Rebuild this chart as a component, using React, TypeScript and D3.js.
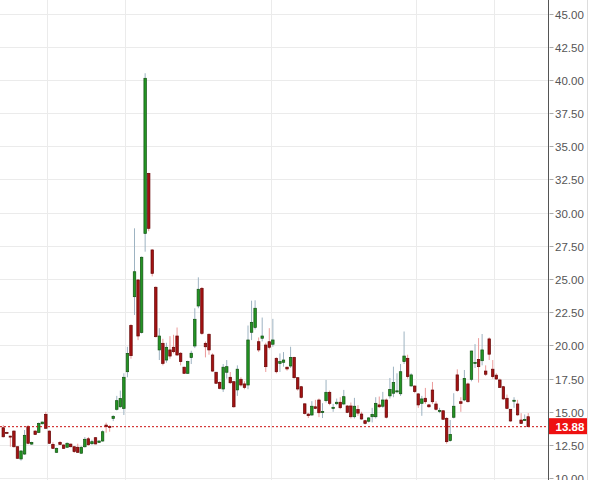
import React, { useEffect, useRef } from "react";
import * as d3 from "d3";

// daily candles, oldest first
const opens = [
  13.8, 13.45, 13.17, 13.55, 12.37, 11.45, 11.82, 13.88, 12.57, 13.55,
  13.45, 14.1, 14.81, 13.55, 12.55, 11.95, 12.7, 12.5, 12.33, 12.57,
  12.37, 12.33, 11.88, 12.37, 12.97, 12.6, 13.05, 12.7, 12.8, 14.0,
  13.9, 14.5, 15.19, 15.38, 15.26, 18.02, 21.51, 23.67, 24.93, 20.97,
  28.44, 32.96, 27.19, 24.38, 19.66, 20.16, 18.9, 19.66, 19.86, 20.71,
  19.41, 18.36, 17.9, 19.08, 19.96, 22.97, 24.3, 20.16, 20.84, 19.28,
  17.98, 17.22, 16.72, 17.98, 17.6, 17.27, 16.65, 17.45, 17.1, 17.02,
  20.99, 21.36, 20.28, 20.54, 20.03, 20.28, 20.09, 19.03, 18.65, 18.73,
  18.36, 18.45, 19.1, 17.57, 16.89, 15.6, 14.83, 14.76, 15.38, 15.89,
  15.0, 15.84, 16.47, 15.26, 15.61, 15.72, 15.59, 15.44, 15.44, 14.63,
  15.18, 14.83, 14.33, 14.29, 14.63, 14.63, 15.52, 15.42, 15.89, 16.2,
  16.4, 16.52, 16.36, 18.78, 19.03, 16.95, 16.94, 16.35, 15.64, 16.02,
  15.52, 16.64, 15.59, 15.08, 15.08, 14.51, 12.83, 14.59, 17.78, 15.76,
  15.89, 17.1, 17.45, 18.65, 18.95, 18.85, 18.07, 20.49, 18.21, 17.76,
  17.4, 16.89, 16.02, 15.19, 15.8, 15.59, 14.38, 14.38, 14.63,
];
const closes = [
  13.12, 13.42, 13.1, 12.37, 11.5, 12.05, 13.23, 12.63, 12.7, 13.3,
  14.13, 14.23, 13.76, 12.63, 12.25, 12.25, 12.55, 12.25, 12.63, 12.37,
  12.0, 11.95, 12.33, 12.93, 12.52, 12.75, 12.58, 12.8, 13.5, 13.88,
  13.83, 14.66, 15.84, 16.0, 17.6, 19.4, 19.23, 25.55, 20.71, 26.64,
  40.12, 28.82, 25.43, 20.66, 20.71, 18.65, 19.86, 19.2, 19.53, 19.28,
  18.78, 17.9, 18.78, 19.41, 21.97, 24.23, 20.91, 19.9, 19.66, 18.07,
  17.15, 16.77, 18.36, 18.4, 17.19, 15.38, 18.21, 17.02, 16.84, 20.41,
  21.74, 22.8, 19.66, 20.71, 18.4, 19.86, 20.41, 18.02, 18.78, 18.9,
  18.23, 19.1, 17.57, 16.72, 16.09, 14.88, 14.71, 15.42, 15.26, 14.93,
  15.02, 16.47, 15.64, 15.34, 15.72, 15.31, 16.14, 14.96, 14.63, 15.42,
  14.9, 14.46, 14.13, 14.54, 14.81, 15.64, 15.38, 15.89, 14.59, 16.69,
  17.2, 16.58, 18.02, 19.2, 17.65, 17.78, 16.52, 15.52, 15.97, 15.76,
  15.38, 15.76, 15.19, 15.1, 14.44, 12.75, 13.3, 15.42, 16.6, 15.64,
  17.52, 15.76, 19.58, 18.72, 18.4, 19.66, 17.83, 19.34, 17.65, 17.47,
  16.84, 15.97, 15.26, 14.31, 15.87, 14.77, 14.13, 14.42, 13.88,
];
const highs = [
  14.0, 13.5, 13.2, 13.6, 12.4, 12.1, 13.63, 14.0, 12.75, 13.6,
  14.2, 14.25, 15.0, 13.6, 12.7, 12.3, 12.8, 12.55, 12.7, 12.6,
  12.4, 12.6, 12.4, 13.1, 13.1, 12.9, 13.1, 12.85, 13.6, 14.18,
  14.0, 14.75, 16.2, 16.6, 17.9, 19.9, 21.6, 28.82, 25.0, 26.7,
  40.5, 33.0, 27.25, 24.45, 21.3, 20.5, 20.2, 20.7, 20.8, 21.35,
  19.5, 18.4, 18.85, 19.6, 22.8, 25.13, 24.4, 20.3, 20.9, 19.4,
  18.0, 17.3, 18.6, 18.9, 18.0, 17.3, 18.5, 17.6, 17.3, 21.5,
  23.37, 23.4, 20.6, 22.1, 20.2, 21.3, 22.0, 19.1, 19.4, 19.5,
  18.4, 19.9, 19.15, 17.6, 16.95, 15.65, 14.9, 15.8, 15.9, 16.0,
  15.65, 17.4, 16.6, 15.6, 16.0, 16.1, 16.65, 15.5, 15.7, 16.05,
  15.5, 15.0, 14.4, 14.6, 15.3, 16.1, 16.15, 16.5, 16.0, 17.55,
  18.4, 17.9, 18.6, 21.05, 19.3, 17.9, 17.0, 16.4, 16.2, 16.8,
  15.6, 17.25, 15.8, 15.3, 15.1, 14.6, 14.38, 16.4, 18.2, 16.1,
  18.15, 17.2, 19.6, 20.1, 20.55, 20.86, 18.5, 20.6, 18.9, 17.9,
  17.5, 16.95, 16.3, 15.2, 16.1, 15.9, 14.9, 14.8, 14.9,
];
const lows = [
  13.07, 13.4, 12.37, 12.3, 11.45, 11.32, 11.75, 12.55, 12.5, 13.25,
  13.4, 14.05, 13.7, 12.58, 12.2, 11.9, 12.5, 12.2, 12.3, 12.33,
  11.9, 11.9, 11.85, 12.3, 12.45, 12.5, 12.55, 12.65, 12.75, 13.43,
  13.5, 14.3, 15.1, 15.3, 14.76, 17.6, 19.0, 22.29, 20.4, 20.9,
  27.06, 28.6, 25.2, 20.6, 18.9, 18.5, 18.7, 19.0, 19.4, 19.2,
  18.5, 17.85, 17.85, 18.6, 19.8, 22.8, 20.8, 19.1, 19.3, 18.0,
  17.1, 16.7, 16.5, 17.5, 17.1, 15.3, 16.2, 16.9, 16.7, 16.7,
  20.4, 21.2, 19.5, 20.3, 18.0, 19.7, 19.9, 17.9, 18.0, 18.4,
  18.1, 18.3, 17.5, 16.6, 16.0, 14.8, 14.53, 14.7, 15.2, 14.6,
  14.53, 15.7, 15.5, 15.0, 15.5, 15.2, 15.5, 14.9, 14.5, 14.5,
  14.7, 14.4, 14.05, 14.2, 14.2, 14.5, 15.3, 15.3, 14.5, 16.0,
  16.1, 16.4, 16.2, 18.6, 17.5, 16.9, 16.4, 15.3, 14.7, 15.6,
  15.3, 15.6, 15.1, 14.9, 14.4, 12.6, 12.75, 14.5, 16.5, 15.0,
  15.8, 15.7, 17.3, 18.3, 17.2, 18.5, 17.7, 18.9, 17.5, 17.4,
  16.8, 15.9, 15.2, 14.25, 15.3, 14.7, 14.1, 14.35, 13.85,
];

// candle indices where a new month starts
const monthStarts = [12, 34, 75, 116, 138];
const priceTicks = d3.range(10, 45.01, 2.5);
const lastPrice = 13.88;

const W = 590,
  H = 480,
  axisX = 548;

export default function App() {
  const ref = useRef<SVGSVGElement>(null);

  useEffect(() => {
    const svg = d3.select(ref.current);
    svg.selectAll("*").remove();

    const idx = d3.range(opens.length);
    const x = d3.scaleBand<number>().domain(idx).range([1.5, 530]);
    const step = x.step();
    const cx = (i: number) => (x(i) as number) + step / 2;
    const y = d3.scaleLinear().domain([10, 45]).range([478.2, 13.5]);

    svg.append("rect").attr("width", W).attr("height", H).attr("fill", "#fff");

    // grid
    svg
      .append("g")
      .selectAll("line")
      .data(priceTicks)
      .join("line")
      .attr("x1", 0)
      .attr("x2", axisX)
      .attr("y1", (d) => Math.round(y(d)) + 0.5)
      .attr("y2", (d) => Math.round(y(d)) + 0.5)
      .attr("stroke", "#ebebeb");
    svg
      .append("g")
      .selectAll("line")
      .data(monthStarts)
      .join("line")
      .attr("x1", (d) => Math.round(cx(d) + step * 0.35) + 0.5)
      .attr("x2", (d) => Math.round(cx(d) + step * 0.35) + 0.5)
      .attr("y1", 0)
      .attr("y2", H)
      .attr("stroke", "#ebebeb");

    // candles
    const g = svg.append("g");
    idx.forEach((i) => {
      const up = closes[i] >= opens[i];
      const px = cx(i);
      g.append("line")
        .attr("x1", px)
        .attr("x2", px)
        .attr("y1", y(highs[i]))
        .attr("y2", y(lows[i]))
        .attr("stroke", up ? "#9db3c2" : "#ec9a9a")
        .attr("stroke-width", 1);
      const top = y(Math.max(opens[i], closes[i]));
      const bot = y(Math.min(opens[i], closes[i]));
      g.append("rect")
        .attr("x", px - step * 0.35)
        .attr("width", step * 0.7)
        .attr("y", top)
        .attr("height", Math.max(1, bot - top))
        .attr("fill", up ? "#239423" : "#a31212")
        .attr("stroke", up ? "#125212" : "#650606")
        .attr("stroke-width", 0.7);
    });

    // last price line
    svg
      .append("line")
      .attr("x1", 0)
      .attr("x2", axisX)
      .attr("y1", y(lastPrice))
      .attr("y2", y(lastPrice))
      .attr("stroke", "#cc1111")
      .attr("stroke-dasharray", "2,2");

    // right axis
    const ax = svg.append("g").attr("transform", `translate(${axisX + 0.5},0)`);
    ax.append("line").attr("y1", 0).attr("y2", H).attr("stroke", "#555");
    const t = ax
      .selectAll("g.tick")
      .data(priceTicks)
      .join("g")
      .attr("class", "tick")
      .attr("transform", (d) => `translate(0,${Math.round(y(d)) + 0.5})`);
    t.append("line").attr("x1", 1).attr("x2", 5).attr("stroke", "#aaa");
    t.append("text")
      .attr("x", 6.5)
      .attr("dy", "0.35em")
      .attr("fill", "#555")
      .style("font", "11.5px 'Liberation Sans', Arial, sans-serif")
      .text((d) => d3.format(".2f")(d));

    const ly = y(lastPrice);
    svg
      .append("rect")
      .attr("x", axisX + 1)
      .attr("y", ly - 8.5)
      .attr("width", 39)
      .attr("height", 16)
      .attr("fill", "#ee1111");
    svg
      .append("text")
      .attr("x", axisX + 7.5)
      .attr("y", ly)
      .attr("dy", "0.36em")
      .attr("fill", "#fff")
      .style("font", "bold 11.5px 'Liberation Sans', Arial, sans-serif")
      .text(lastPrice.toFixed(2));

    svg
      .append("line")
      .attr("x1", W - 2.5)
      .attr("x2", W - 2.5)
      .attr("y1", 0)
      .attr("y2", H)
      .attr("stroke", "#ddd");
  }, []);

  return (
    <svg
      ref={ref}
      width={W}
      height={H}
      style={{ position: "absolute", left: 0, top: 0 }}
    ></svg>
  );
}
